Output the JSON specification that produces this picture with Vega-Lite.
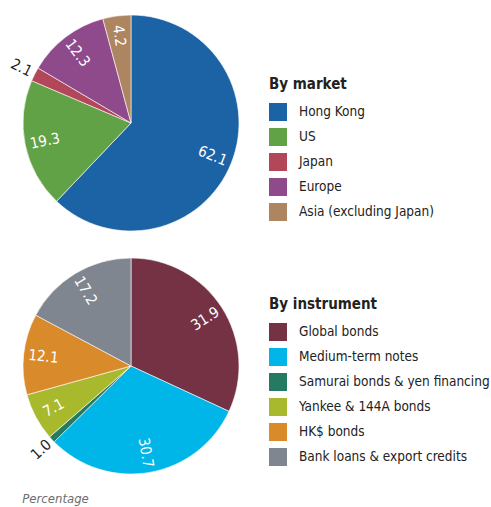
{
  "$schema": "https://vega.github.io/schema/vega-lite/v6.json",
  "background": "white",
  "padding": {"left": 8, "top": 13, "right": 0, "bottom": 0},
  "config": {
    "view": {"stroke": null},
    "font": "Liberation Sans Narrow, DejaVu Sans Condensed, Roboto Condensed, sans-serif"
  },
  "title": {
    "text": "Percentage",
    "orient": "bottom",
    "anchor": "start",
    "fontStyle": "italic",
    "fontWeight": "normal",
    "fontSize": 13,
    "color": "#6d6d6d",
    "offset": 18,
    "dx": 14
  },
  "spacing": 23,
  "resolve": {"scale": {"color": "independent", "theta": "independent"}, "legend": {"color": "independent"}},
  "vconcat": [
    {
      "width": 216,
      "height": 216,
      "data": {"values": [
        {"market": "Hong Kong", "share": 62.1},
        {"market": "US", "share": 19.3},
        {"market": "Japan", "share": 2.1},
        {"market": "Europe", "share": 12.3},
        {"market": "Asia (excluding Japan)", "share": 4.2}
      ]},
      "transform": [
        {"window": [{"op": "sum", "field": "share", "as": "end"}], "frame": [null, 0]},
        {"calculate": "datum.end - datum.share", "as": "start"},
        {"calculate": "datum.end - datum.share / 2", "as": "mid"},
        {"calculate": "datum.mid * 3.6 < 180 ? datum.mid * 3.6 - 90 : datum.mid * 3.6 - 270", "as": "ang"}
      ],
      "layer": [
        {
          "mark": {"type": "arc", "stroke": "white", "strokeWidth": 0.6},
          "encoding": {
            "theta": {"field": "start", "type": "quantitative", "stack": null, "scale": {"domain": [0, 100]}},
            "theta2": {"field": "end"},
            "color": {
              "field": "market", "type": "nominal",
              "scale": {
                "domain": ["Hong Kong", "US", "Japan", "Europe", "Asia (excluding Japan)"],
                "range": ["#1c63a5", "#62a247", "#b3475a", "#8f4a8c", "#ad8560"]
              },
              "legend": {
                "title": "By market", "orient": "none", "legendX": 246, "legendY": 62,
                "symbolType": "square", "symbolSize": 324, "symbolStrokeWidth": 0,
                "labelFontSize": 13.5, "titleFontSize": 15, "titleFontWeight": "bold",
                "rowPadding": 7, "labelOffset": 12, "titlePadding": 11,
                "labelColor": "#222", "titleColor": "#222", "labelLimit": 300
              }
            }
          }
        },
        {
          "transform": [{"filter": "datum.share >= 3"}],
          "mark": {"type": "text", "radius": 88, "color": "white", "fontSize": 15, "align": "center", "baseline": "middle"},
          "encoding": {
            "theta": {"field": "mid", "type": "quantitative", "stack": null, "scale": {"domain": [0, 100]}},
            "angle": {"field": "ang", "type": "quantitative", "scale": null},
            "text": {"field": "share", "type": "quantitative", "format": ".1f"}
          }
        },
        {
          "transform": [{"filter": "datum.share < 3"}],
          "mark": {"type": "text", "radius": 112, "color": "#222", "fontSize": 15, "align": "right", "baseline": "middle"},
          "encoding": {
            "theta": {"field": "mid", "type": "quantitative", "stack": null, "scale": {"domain": [0, 100]}},
            "angle": {"field": "ang", "type": "quantitative", "scale": null},
            "text": {"field": "share", "type": "quantitative", "format": ".1f"}
          }
        }
      ]
    },
    {
      "width": 216,
      "height": 216,
      "data": {"values": [
        {"instrument": "Global bonds", "share": 31.9},
        {"instrument": "Medium-term notes", "share": 30.7},
        {"instrument": "Samurai bonds & yen financing", "share": 1.0},
        {"instrument": "Yankee & 144A bonds", "share": 7.1},
        {"instrument": "HK$ bonds", "share": 12.1},
        {"instrument": "Bank loans & export credits", "share": 17.2}
      ]},
      "transform": [
        {"window": [{"op": "sum", "field": "share", "as": "end"}], "frame": [null, 0]},
        {"calculate": "datum.end - datum.share", "as": "start"},
        {"calculate": "datum.end - datum.share / 2", "as": "mid"},
        {"calculate": "datum.mid * 3.6 < 180 ? datum.mid * 3.6 - 90 : datum.mid * 3.6 - 270", "as": "ang"}
      ],
      "layer": [
        {
          "mark": {"type": "arc", "stroke": "white", "strokeWidth": 0.6},
          "encoding": {
            "theta": {"field": "start", "type": "quantitative", "stack": null, "scale": {"domain": [0, 100]}},
            "theta2": {"field": "end"},
            "color": {
              "field": "instrument", "type": "nominal",
              "scale": {
                "domain": ["Global bonds", "Medium-term notes", "Samurai bonds & yen financing", "Yankee & 144A bonds", "HK$ bonds", "Bank loans & export credits"],
                "range": ["#743244", "#00b5e7", "#267a62", "#a8b92e", "#d98b2b", "#7f8690"]
              },
              "legend": {
                "title": "By instrument", "orient": "none", "legendX": 246, "legendY": 39,
                "symbolType": "square", "symbolSize": 324, "symbolStrokeWidth": 0,
                "labelFontSize": 13.5, "titleFontSize": 15, "titleFontWeight": "bold",
                "rowPadding": 7, "labelOffset": 12, "titlePadding": 11,
                "labelColor": "#222", "titleColor": "#222", "labelLimit": 300
              }
            }
          }
        },
        {
          "transform": [{"filter": "datum.share >= 3"}],
          "mark": {"type": "text", "radius": 88, "color": "white", "fontSize": 15, "align": "center", "baseline": "middle"},
          "encoding": {
            "theta": {"field": "mid", "type": "quantitative", "stack": null, "scale": {"domain": [0, 100]}},
            "angle": {"field": "ang", "type": "quantitative", "scale": null},
            "text": {"field": "share", "type": "quantitative", "format": ".1f"}
          }
        },
        {
          "transform": [{"filter": "datum.share < 3"}],
          "mark": {"type": "text", "radius": 112, "color": "#222", "fontSize": 15, "align": "right", "baseline": "middle"},
          "encoding": {
            "theta": {"field": "mid", "type": "quantitative", "stack": null, "scale": {"domain": [0, 100]}},
            "angle": {"field": "ang", "type": "quantitative", "scale": null},
            "text": {"field": "share", "type": "quantitative", "format": ".1f"}
          }
        }
      ]
    }
  ]
}
